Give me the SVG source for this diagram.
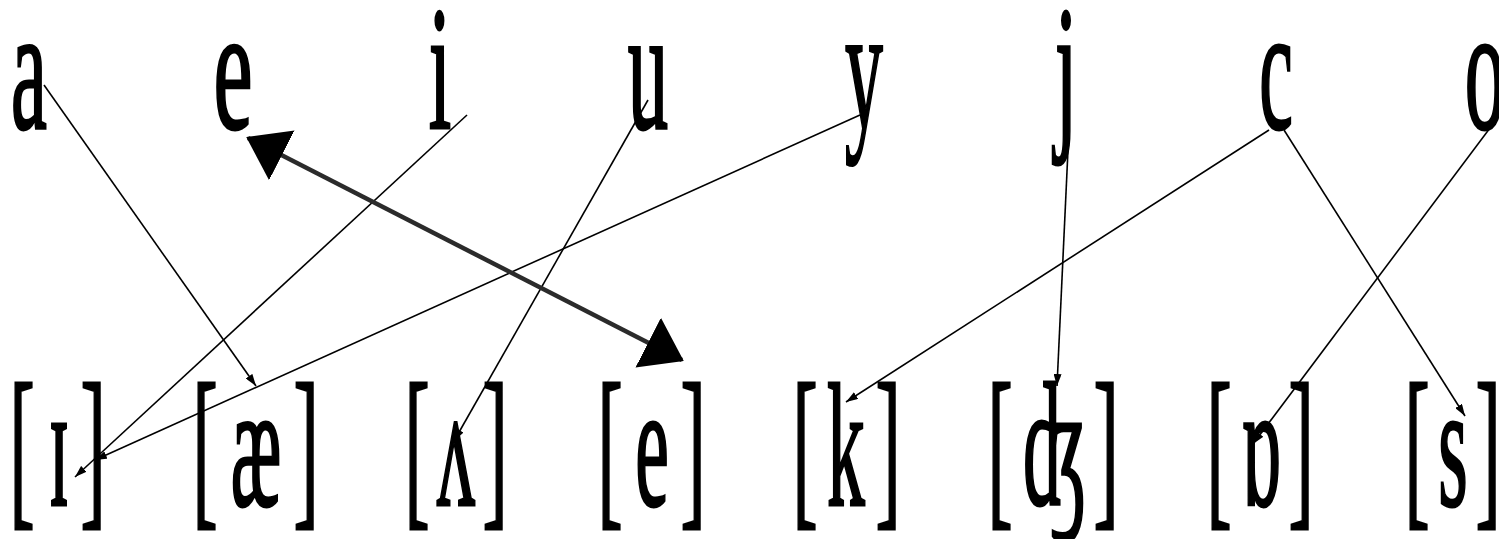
<svg xmlns="http://www.w3.org/2000/svg" width="1499" height="539" viewBox="0 0 1499 539">
<style>
.c{stroke:#000;stroke-width:1.6;fill:none;marker-end:url(#ah)}
.big{stroke:#2b2b2b;stroke-width:4.5;fill:none;marker-start:url(#bh);marker-end:url(#bh)}
</style>
<defs>
<marker id="ah" markerUnits="userSpaceOnUse" markerWidth="12" markerHeight="8" refX="12" refY="4" orient="auto"><path d="M0,0 L12,4 L0,8 z" fill="#000"/></marker>
<marker id="bh" markerUnits="userSpaceOnUse" markerWidth="40" markerHeight="56" refX="38" refY="28" orient="auto-start-reverse"><path d="M0,0 L40,28 L0,56 z" fill="#000"/></marker>
</defs>
<rect width="1499" height="539" fill="#fff"/>
<g font-family="Liberation Serif, DejaVu Serif, serif" font-size="176" fill="#000" stroke="#000" stroke-width="3" text-anchor="middle">
<g id="top-a"><text transform="translate(29,128) scale(0.46,1)">a</text></g>
<g id="top-e"><text transform="translate(233,128) scale(0.5,1)">e</text></g>
<g id="top-i"><text transform="translate(440,128) scale(0.46,1)">i</text></g>
<g id="top-u"><text transform="translate(648,128) scale(0.46,1)">u</text></g>
<g id="top-y"><text transform="translate(864,128) scale(0.43,1)">y</text></g>
<g id="top-j"><text transform="translate(1066,128) scale(0.46,1)">j</text></g>
<g id="top-c"><text transform="translate(1276,128) scale(0.43,1)">c</text></g>
<g id="top-o"><text transform="translate(1485,128) scale(0.46,1)">o</text></g>
<g id="ipa-1"><text transform="translate(22,505) scale(0.43,1)">[</text><text transform="translate(59,505) scale(0.43,1)">ɪ</text><text transform="translate(93,505) scale(0.43,1)">]</text></g>
<g id="ipa-2"><text transform="translate(205,505) scale(0.43,1)">[</text><text transform="translate(256,505) scale(0.43,1)">æ</text><text transform="translate(306,505) scale(0.43,1)">]</text></g>
<g id="ipa-3"><text transform="translate(417,505) scale(0.43,1)">[</text><text transform="translate(456,505) scale(0.43,1)">ʌ</text><text transform="translate(495,505) scale(0.43,1)">]</text></g>
<g id="ipa-4"><text transform="translate(610,505) scale(0.43,1)">[</text><text transform="translate(652,505) scale(0.43,1)">e</text><text transform="translate(693,505) scale(0.43,1)">]</text></g>
<g id="ipa-5"><text transform="translate(805,505) scale(0.43,1)">[</text><text transform="translate(846,505) scale(0.43,1)">k</text><text transform="translate(888,505) scale(0.43,1)">]</text></g>
<g id="ipa-6"><text transform="translate(1000,505) scale(0.43,1)">[</text><text transform="translate(1055,505) scale(0.43,1)">ʤ</text><text transform="translate(1106,505) scale(0.43,1)">]</text></g>
<g id="ipa-7"><text transform="translate(1219,505) scale(0.43,1)">[</text><text transform="translate(1261,505) scale(0.43,1)">ɒ</text><text transform="translate(1301,505) scale(0.43,1)">]</text></g>
<g id="ipa-8"><text transform="translate(1417,505) scale(0.43,1)">[</text><text transform="translate(1453,505) scale(0.43,1)">s</text><text transform="translate(1488,505) scale(0.43,1)">]</text></g>
</g>
<g id="connectors">
<line class="c" x1="44" y1="85" x2="256" y2="386"/>
<line class="c" x1="467" y1="115" x2="75" y2="477"/>
<line class="c" x1="860" y1="115" x2="95" y2="460"/>
<line class="c" x1="648" y1="100" x2="454" y2="441"/>
<line class="c" x1="1068" y1="150" x2="1057" y2="386"/>
<line class="c" x1="1269" y1="130" x2="846" y2="402"/>
<line class="c" x1="1284" y1="130" x2="1465" y2="416"/>
<line class="c" x1="1496" y1="120" x2="1253" y2="444"/>
<line class="big" x1="248" y1="138" x2="682" y2="360"/>
</g>
</svg>
